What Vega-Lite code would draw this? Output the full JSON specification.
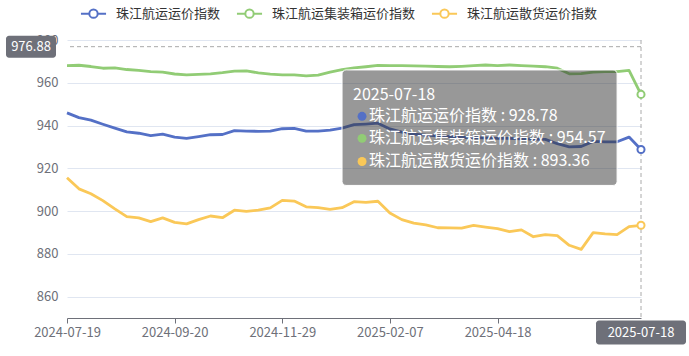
{
  "$schema": "https://vega.github.io/schema/vega-lite/v6.json",
  "width": 574,
  "height": 278,
  "autosize": {"type": "none"},
  "padding": {"left": 67, "top": 40, "right": 48, "bottom": 38},
  "background": "#ffffff",
  "config": {
    "view": {"stroke": null},
    "font": "Noto Sans CJK SC",
    "text": {"font": "Noto Sans CJK SC"}
  },
  "datasets": {
    "one": [{}],
    "idx": [
      {"d": "2024-07-19", "珠江航运运价指数": 945.9, "珠江航运集装箱运价指数": 968.0, "珠江航运散货运价指数": 915.6},
      {"d": "2024-07-26", "珠江航运运价指数": 943.7, "珠江航运集装箱运价指数": 968.2, "珠江航运散货运价指数": 910.4},
      {"d": "2024-08-02", "珠江航运运价指数": 942.5, "珠江航运集装箱运价指数": 967.6, "珠江航运散货运价指数": 908.1},
      {"d": "2024-08-09", "珠江航运运价指数": 940.6, "珠江航运集装箱运价指数": 966.8, "珠江航运散货运价指数": 904.9},
      {"d": "2024-08-16", "珠江航运运价指数": 938.8, "珠江航运集装箱运价指数": 967.0, "珠江航运散货运价指数": 901.0},
      {"d": "2024-08-23", "珠江航运运价指数": 937.0, "珠江航运集装箱运价指数": 966.2, "珠江航运散货运价指数": 897.4},
      {"d": "2024-08-30", "珠江航运运价指数": 936.4, "珠江航运集装箱运价指数": 965.8, "珠江航运散货运价指数": 896.8},
      {"d": "2024-09-06", "珠江航运运价指数": 935.3, "珠江航运集装箱运价指数": 965.2, "珠江航运散货运价指数": 895.1},
      {"d": "2024-09-13", "珠江航运运价指数": 936.0, "珠江航运集装箱运价指数": 965.0, "珠江航运散货运价指数": 896.8},
      {"d": "2024-09-20", "珠江航运运价指数": 934.6, "珠江航运集装箱运价指数": 964.1, "珠江航运散货运价指数": 894.7},
      {"d": "2024-09-27", "珠江航运运价指数": 934.0, "珠江航运集装箱运价指数": 963.7, "珠江航运散货运价指数": 894.0},
      {"d": "2024-10-11", "珠江航运运价指数": 934.8, "珠江航运集装箱运价指数": 963.9, "珠江航运散货运价指数": 896.0},
      {"d": "2024-10-18", "珠江航运运价指数": 935.7, "珠江航运集装箱运价指数": 964.2, "珠江航运散货运价指数": 897.7},
      {"d": "2024-10-25", "珠江航运运价指数": 935.8, "珠江航运集装箱运价指数": 964.7, "珠江航运散货运价指数": 896.9},
      {"d": "2024-11-01", "珠江航运运价指数": 937.6, "珠江航运集装箱运价指数": 965.4, "珠江航运散货运价指数": 900.4},
      {"d": "2024-11-08", "珠江航运运价指数": 937.4, "珠江航运集装箱运价指数": 965.6, "珠江航运散货运价指数": 899.9},
      {"d": "2024-11-15", "珠江航运运价指数": 937.3, "珠江航运集装箱运价指数": 964.6, "珠江航运散货运价指数": 900.4},
      {"d": "2024-11-22", "珠江航运运价指数": 937.4, "珠江航运集装箱运价指数": 964.0, "珠江航运散货运价指数": 901.5},
      {"d": "2024-11-29", "珠江航运运价指数": 938.5, "珠江航运集装箱运价指数": 963.7, "珠江航运散货运价指数": 905.0},
      {"d": "2024-12-06", "珠江航运运价指数": 938.7, "珠江航运集装箱运价指数": 963.7, "珠江航运散货运价指数": 904.7},
      {"d": "2024-12-13", "珠江航运运价指数": 937.4, "珠江航运集装箱运价指数": 963.2, "珠江航运散货运价指数": 902.0},
      {"d": "2024-12-20", "珠江航运运价指数": 937.4, "珠江航运集装箱运价指数": 963.6, "珠江航运散货运价指数": 901.6},
      {"d": "2024-12-27", "珠江航运运价指数": 937.9, "珠江航运集装箱运价指数": 965.0, "珠江航运散货运价指数": 900.8},
      {"d": "2025-01-03", "珠江航运运价指数": 938.8, "珠江航运集装箱运价指数": 966.2, "珠江航运散货运价指数": 901.6},
      {"d": "2025-01-10", "珠江航运运价指数": 940.4, "珠江航运集装箱运价指数": 967.0, "珠江航运散货运价指数": 904.4},
      {"d": "2025-01-17", "珠江航运运价指数": 940.7, "珠江航运集装箱运价指数": 967.5, "珠江航运散货运价指数": 904.1},
      {"d": "2025-01-24", "珠江航运运价指数": 941.1, "珠江航运集装箱运价指数": 968.1, "珠江航运散货运价指数": 904.6},
      {"d": "2025-02-07", "珠江航运运价指数": 938.4, "珠江航运集装箱运价指数": 968.0, "珠江航运散货运价指数": 899.1},
      {"d": "2025-02-14", "珠江航运运价指数": 936.9, "珠江航运集装箱运价指数": 968.0, "珠江航运散货运价指数": 896.0},
      {"d": "2025-02-21", "珠江航运运价指数": 936.0, "珠江航运集装箱运价指数": 967.9, "珠江航运散货运价指数": 894.4},
      {"d": "2025-02-28", "珠江航运运价指数": 935.5, "珠江航运集装箱运价指数": 967.8, "珠江航运散货运价指数": 893.5},
      {"d": "2025-03-07", "珠江航运运价指数": 935.2, "珠江航运集装箱运价指数": 967.6, "珠江航运散货运价指数": 892.2},
      {"d": "2025-03-14", "珠江航运运价指数": 934.8, "珠江航运集装箱运价指数": 967.5, "珠江航运散货运价指数": 892.1},
      {"d": "2025-03-21", "珠江航运运价指数": 934.5, "珠江航运集装箱运价指数": 967.7, "珠江航运散货运价指数": 892.0},
      {"d": "2025-03-28", "珠江航运运价指数": 934.3, "珠江航运集装箱运价指数": 968.0, "珠江航运散货运价指数": 893.3},
      {"d": "2025-04-11", "珠江航运运价指数": 934.2, "珠江航运集装箱运价指数": 968.3, "珠江航运散货运价指数": 892.5},
      {"d": "2025-04-18", "珠江航运运价指数": 934.0, "珠江航运集装箱运价指数": 968.0, "珠江航运散货运价指数": 891.8},
      {"d": "2025-04-25", "珠江航运运价指数": 934.0, "珠江航运集装箱运价指数": 968.3, "珠江航运散货运价指数": 890.4},
      {"d": "2025-05-09", "珠江航运运价指数": 933.8, "珠江航运集装箱运价指数": 968.0, "珠江航运散货运价指数": 891.2},
      {"d": "2025-05-16", "珠江航运运价指数": 933.6, "珠江航运集装箱运价指数": 967.8, "珠江航运散货运价指数": 888.0},
      {"d": "2025-05-23", "珠江航运运价指数": 933.5, "珠江航运集装箱运价指数": 967.5, "珠江航运散货运价指数": 889.0},
      {"d": "2025-05-30", "珠江航运运价指数": 931.5, "珠江航运集装箱运价指数": 966.8, "珠江航运散货运价指数": 888.5},
      {"d": "2025-06-06", "珠江航运运价指数": 930.0, "珠江航运集装箱运价指数": 964.2, "珠江航运散货运价指数": 884.0},
      {"d": "2025-06-13", "珠江航运运价指数": 930.2, "珠江航运集装箱运价指数": 964.3, "珠江航运散货运价指数": 882.1},
      {"d": "2025-06-20", "珠江航运运价指数": 932.6, "珠江航运集装箱运价指数": 965.0, "珠江航运散货运价指数": 889.9},
      {"d": "2025-06-27", "珠江航运运价指数": 932.4, "珠江航运集装箱运价指数": 965.2, "珠江航运散货运价指数": 889.3},
      {"d": "2025-07-04", "珠江航运运价指数": 932.4, "珠江航运集装箱运价指数": 965.2, "珠江航运散货运价指数": 889.0},
      {"d": "2025-07-11", "珠江航运运价指数": 934.6, "珠江航运集装箱运价指数": 965.8, "珠江航运散货运价指数": 892.7},
      {"d": "2025-07-18", "珠江航运运价指数": 928.78, "珠江航运集装箱运价指数": 954.57, "珠江航运散货运价指数": 893.36}
    ]
  },
  "layer": [
    {
      "data": {"name": "idx"},
      "transform": [{"fold": ["珠江航运运价指数", "珠江航运集装箱运价指数", "珠江航运散货运价指数"], "as": ["series", "value"]}],
      "mark": {"type": "line", "strokeWidth": 2.8, "strokeJoin": "round"},
      "encoding": {
        "x": {
          "field": "d", "type": "ordinal", "sort": null, "title": null,
          "scale": {"type": "point", "padding": 0},
          "axis": {
            "values": ["2024-07-19", "2024-09-20", "2024-11-29", "2025-02-07", "2025-04-18"],
            "labelAngle": 0, "domainColor": "#6E7079", "domainWidth": 1,
            "tickColor": "#6E7079", "tickSize": 5, "labelPadding": 3,
            "labelColor": "#6E7079", "labelFontSize": 13, "labelFont": "Noto Sans CJK SC",
            "labelBaseline": "top", "grid": false
          }
        },
        "y": {
          "field": "value", "type": "quantitative", "title": null,
          "scale": {"domain": [850, 980], "nice": false, "zero": false},
          "axis": {
            "values": [860, 880, 900, 920, 940, 960, 980],
            "domain": false, "ticks": false, "labelPadding": 9,
            "labelColor": "#6E7079", "labelFontSize": 13, "labelFont": "Noto Sans CJK SC",
            "gridColor": "#E0E6F1", "gridWidth": 1
          }
        },
        "color": {
          "field": "series", "type": "nominal", "title": null,
          "scale": {
            "domain": ["珠江航运运价指数", "珠江航运集装箱运价指数", "珠江航运散货运价指数"],
            "range": ["#5470c6", "#91cc75", "#fac858"]
          },
          "legend": {
            "orient": "none", "legendX": 17, "legendY": -36, "direction": "horizontal",
            "symbolType": "M -1.5 0 L -0.5 0 M 0.5 0 L 1.5 0 M -0.5 0 A 0.5 0.5 0 1 1 0.5 0 A 0.5 0.5 0 1 1 -0.5 0",
            "symbolSize": 280, "symbolStrokeWidth": 2, "symbolFillColor": "#ffffff",
            "labelOffset": 13, "columnPadding": 11,
            "labelFontSize": 13, "labelColor": "#333333", "labelFont": "Noto Sans CJK SC"
          }
        }
      }
    },
    {
      "data": {"name": "one"},
      "mark": {"type": "rule", "color": "#aaaaaa", "strokeDash": [4, 3], "strokeWidth": 1},
      "encoding": {"y": {"datum": 976.88}}
    },
    {
      "data": {"name": "one"},
      "mark": {"type": "rule", "color": "#aaaaaa", "strokeDash": [4, 3], "strokeWidth": 1},
      "encoding": {"x": {"datum": "2025-07-18"}}
    },
    {
      "data": {"name": "idx"},
      "transform": [
        {"filter": "datum.d === '2025-07-18'"},
        {"fold": ["珠江航运运价指数", "珠江航运集装箱运价指数", "珠江航运散货运价指数"], "as": ["series", "value"]}
      ],
      "mark": {"type": "point", "filled": true, "fill": "#ffffff", "size": 50, "strokeWidth": 2, "opacity": 1},
      "encoding": {
        "x": {"field": "d", "type": "ordinal", "sort": null},
        "y": {"field": "value", "type": "quantitative"},
        "stroke": {"field": "series", "type": "nominal", "legend": null,
          "scale": {"domain": ["珠江航运运价指数", "珠江航运集装箱运价指数", "珠江航运散货运价指数"], "range": ["#5470c6", "#91cc75", "#fac858"]}}
      }
    },
    {
      "data": {"name": "one"},
      "mark": {"type": "rect", "fill": "#323232", "fillOpacity": 0.5, "stroke": "#ffffff", "strokeWidth": 1, "cornerRadius": 4},
      "encoding": {
        "x": {"datum": "2025-01-03"}, "x2": {"datum": "2025-07-04"},
        "y": {"datum": 966}, "y2": {"datum": 912}
      }
    },
    {
      "data": {"name": "one"},
      "mark": {"type": "text", "align": "left", "baseline": "middle", "dx": 11, "fontSize": 16, "color": "#ffffff", "font": "Noto Sans CJK SC"},
      "encoding": {"x": {"datum": "2025-01-03"}, "y": {"datum": 954.2}, "text": {"value": "2025-07-18"}}
    },
    {
      "data": {"name": "one"},
      "mark": {"type": "circle", "xOffset": 20, "size": 80, "opacity": 1, "color": "#5470c6"},
      "encoding": {"x": {"datum": "2025-01-03"}, "y": {"datum": 944.3}}
    },
    {
      "data": {"name": "one"},
      "mark": {"type": "circle", "xOffset": 20, "size": 80, "opacity": 1, "color": "#91cc75"},
      "encoding": {"x": {"datum": "2025-01-03"}, "y": {"datum": 934.0}}
    },
    {
      "data": {"name": "one"},
      "mark": {"type": "circle", "xOffset": 20, "size": 80, "opacity": 1, "color": "#fac858"},
      "encoding": {"x": {"datum": "2025-01-03"}, "y": {"datum": 923.2}}
    },
    {
      "data": {"name": "one"},
      "mark": {"type": "text", "align": "left", "baseline": "middle", "dx": 27, "fontSize": 16, "color": "#ffffff", "font": "Noto Sans CJK SC"},
      "encoding": {"x": {"datum": "2025-01-03"}, "y": {"datum": 944.3}, "text": {"value": "珠江航运运价指数 : 928.78"}}
    },
    {
      "data": {"name": "one"},
      "mark": {"type": "text", "align": "left", "baseline": "middle", "dx": 27, "fontSize": 16, "color": "#ffffff", "font": "Noto Sans CJK SC"},
      "encoding": {"x": {"datum": "2025-01-03"}, "y": {"datum": 934.0}, "text": {"value": "珠江航运集装箱运价指数 : 954.57"}}
    },
    {
      "data": {"name": "one"},
      "mark": {"type": "text", "align": "left", "baseline": "middle", "dx": 27, "fontSize": 16, "color": "#ffffff", "font": "Noto Sans CJK SC"},
      "encoding": {"x": {"datum": "2025-01-03"}, "y": {"datum": 923.2}, "text": {"value": "珠江航运散货运价指数 : 893.36"}}
    },
    {
      "data": {"name": "one"},
      "mark": {"type": "rect", "width": 50, "height": 22, "xOffset": -36, "fill": "#6E7079", "cornerRadius": 3},
      "encoding": {"x": {"datum": "2024-07-19"}, "y": {"datum": 976.88}}
    },
    {
      "data": {"name": "one"},
      "mark": {"type": "text", "align": "center", "baseline": "middle", "dx": -36, "fontSize": 13, "color": "#ffffff", "font": "Noto Sans CJK SC"},
      "encoding": {"x": {"datum": "2024-07-19"}, "y": {"datum": 976.88}, "text": {"value": "976.88"}}
    },
    {
      "data": {"name": "one"},
      "mark": {"type": "rect", "width": 90, "height": 24, "yOffset": 14.5, "fill": "#6E7079", "cornerRadius": 3},
      "encoding": {"x": {"datum": "2025-07-18"}, "y": {"datum": 850}}
    },
    {
      "data": {"name": "one"},
      "mark": {"type": "text", "align": "center", "baseline": "middle", "dy": 14.5, "fontSize": 13, "color": "#ffffff", "font": "Noto Sans CJK SC"},
      "encoding": {"x": {"datum": "2025-07-18"}, "y": {"datum": 850}, "text": {"value": "2025-07-18"}}
    }
  ]
}
